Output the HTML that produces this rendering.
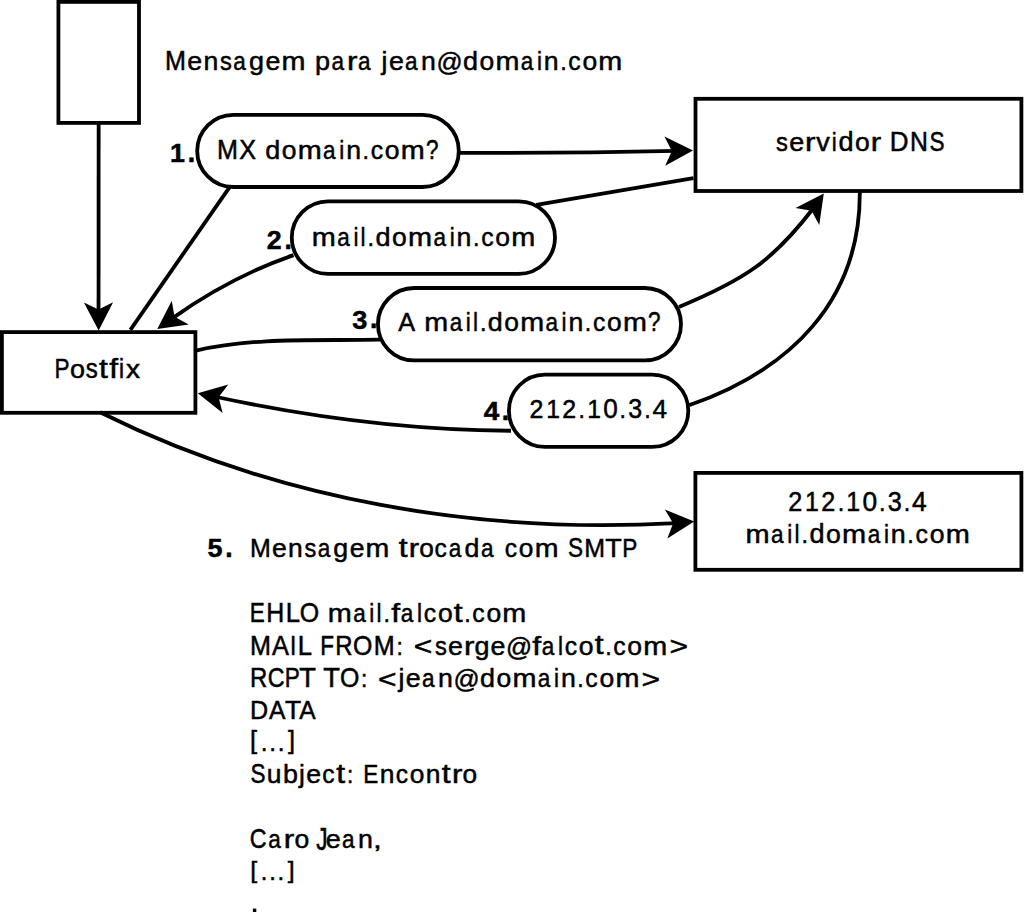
<!DOCTYPE html>
<html><head><meta charset="utf-8"><style>
html,body{margin:0;padding:0;background:#fff;}
svg{display:block;}
.s{fill:none;stroke:#000;stroke-width:3.8;}
text{font-family:"Liberation Sans",sans-serif;fill:#000;stroke:#000;stroke-width:0.5;}
</style></head><body>
<svg width="1024" height="919" viewBox="0 0 1024 919">
<rect x="0" y="0" width="1024" height="919" fill="#fff"/>
<rect x="58.40" y="1.90" width="80.60" height="121.00" class="s"/>
<rect x="197.20" y="114.80" width="261.60" height="72.20" rx="36.10" class="s"/>
<rect x="695.50" y="98.80" width="325.90" height="92.20" class="s"/>
<rect x="291.80" y="201.30" width="263.20" height="72.60" rx="36.30" class="s"/>
<rect x="1.90" y="332.10" width="193.50" height="80.70" class="s"/>
<rect x="377.95" y="288.00" width="303.05" height="72.40" rx="36.20" class="s"/>
<rect x="508.90" y="374.70" width="179.40" height="72.20" rx="36.10" class="s"/>
<rect x="695.40" y="472.90" width="326.00" height="96.90" class="s"/>
<path d="M98.65,122.6 L98.55,312.62" class="s"/>
<polygon points="98.65,330.60 113.10,302.32 98.54,309.45 83.90,302.48" fill="#000"/>
<path d="M459.80,152.90 C531.56,153.06 603.25,152.42 675.03,150.88" class="s"/>
<polygon points="693.00,150.40 664.42,136.56 671.86,150.96 665.20,165.75" fill="#000"/>
<path d="M693.5,178.2 L536.3,204.9" class="s"/>
<path d="M293.50,255.10 C250.16,270.14 209.22,292.07 171.93,318.65" class="s"/>
<polygon points="157.30,329.10 188.73,324.60 174.51,316.81 171.77,300.83" fill="#000"/>
<path d="M229.8,186.8 L130.4,329.8" class="s"/>
<path d="M196.00,350.60 C256.19,336.76 318.85,340.94 380.00,339.70" class="s"/>
<path d="M678.90,307.00 C746.03,279.06 772.95,260.63 813.34,208.22" class="s"/>
<polygon points="823.80,193.60 795.52,208.03 811.49,210.80 819.26,225.03" fill="#000"/>
<path d="M859.80,190.80 C860.90,301.32 789.60,370.31 689.00,405.30" class="s"/>
<path d="M511.00,430.75 C411.55,430.18 312.57,417.72 215.44,396.75" class="s"/>
<polygon points="197.80,393.30 222.68,413.04 218.56,397.35 228.28,384.38" fill="#000"/>
<path d="M100.00,412.30 C277.58,500.65 479.45,534.20 676.29,523.05" class="s"/>
<polygon points="694.20,521.50 664.84,509.39 673.13,523.33 667.37,538.48" fill="#000"/>
<g font-size="26.5" font-weight="normal"><text transform="matrix(0.948 0.0002 0 1.009 175.54 70.00)" x="-11.02" y="0">M</text><text transform="matrix(1.011 0.0002 0 0.989 194.69 70.10)" x="-7.34" y="0">e</text><text transform="matrix(1.006 0.0002 0 0.982 210.87 70.00)" x="-7.39" y="0">n</text><text transform="matrix(0.893 0.0002 0 0.992 225.83 70.10)" x="-6.52" y="0">s</text><text transform="matrix(0.850 0.0002 0 0.989 240.04 70.10)" x="-7.92" y="0">a</text><text transform="matrix(1.017 0.0002 0 0.983 256.13 69.97)" x="-7.08" y="0">g</text><text transform="matrix(1.011 0.0002 0 0.989 272.79 70.10)" x="-7.34" y="0">e</text><text transform="matrix(1.086 0.0002 0 0.982 293.40 70.00)" x="-11.05" y="0">m</text><text transform="matrix(1.022 0.0002 0 0.980 322.83 69.98)" x="-7.66" y="0">p</text><text transform="matrix(0.850 0.0002 0 0.989 338.12 70.10)" x="-7.92" y="0">a</text><text transform="matrix(1.183 0.0002 0 0.982 352.95 70.00)" x="-5.06" y="0">r</text><text transform="matrix(0.850 0.0002 0 0.989 364.62 70.10)" x="-7.92" y="0">a</text><text transform="matrix(1.002 0.0002 0 0.994 383.33 69.90)" x="-1.72" y="0">j</text><text transform="matrix(1.011 0.0002 0 0.989 396.37 70.10)" x="-7.34" y="0">e</text><text transform="matrix(0.850 0.0002 0 0.989 411.83 70.10)" x="-7.92" y="0">a</text><text transform="matrix(1.006 0.0002 0 0.982 428.41 70.00)" x="-7.39" y="0">n</text><text transform="matrix(0.971 0.0002 0 0.973 449.45 70.95)" x="-13.33" y="0">@</text><text transform="matrix(1.017 0.0002 0 1.004 470.20 70.10)" x="-7.08" y="0">d</text><text transform="matrix(0.999 0.0002 0 0.989 486.82 70.10)" x="-7.37" y="0">o</text><text transform="matrix(1.086 0.0002 0 0.982 507.39 70.00)" x="-11.05" y="0">m</text><text transform="matrix(0.850 0.0002 0 0.989 527.45 70.10)" x="-7.92" y="0">a</text><text transform="matrix(0.850 0.0002 0 0.999 539.37 70.00)" x="-2.92" y="0">i</text><text transform="matrix(1.006 0.0002 0 0.982 551.22 70.00)" x="-7.39" y="0">n</text><text transform="matrix(0.880 0.0002 0 0.965 563.46 70.00)" x="-3.68" y="0">.</text><text transform="matrix(0.933 0.0002 0 0.989 574.64 70.10)" x="-6.84" y="0">c</text><text transform="matrix(0.999 0.0002 0 0.989 589.78 70.10)" x="-7.37" y="0">o</text><text transform="matrix(1.086 0.0002 0 0.982 610.35 70.00)" x="-11.05" y="0">m</text></g>
<g font-size="26.5" font-weight="normal"><text transform="matrix(0.950 0.0002 0 1.010 227.55 159.10)" x="-11.02" y="0">M</text><text transform="matrix(0.951 0.0002 0 1.010 247.58 159.10)" x="-8.88" y="0">X</text><text transform="matrix(1.018 0.0002 0 1.005 272.48 159.20)" x="-7.08" y="0">d</text><text transform="matrix(1.000 0.0002 0 0.990 289.11 159.20)" x="-7.37" y="0">o</text><text transform="matrix(1.087 0.0002 0 0.983 309.71 159.10)" x="-11.05" y="0">m</text><text transform="matrix(0.850 0.0002 0 0.990 329.79 159.20)" x="-7.92" y="0">a</text><text transform="matrix(0.850 0.0002 0 1.000 341.73 159.10)" x="-2.92" y="0">i</text><text transform="matrix(1.007 0.0002 0 0.983 353.59 159.10)" x="-7.39" y="0">n</text><text transform="matrix(0.881 0.0002 0 0.966 365.85 159.10)" x="-3.68" y="0">.</text><text transform="matrix(0.934 0.0002 0 0.990 377.04 159.20)" x="-6.84" y="0">c</text><text transform="matrix(1.000 0.0002 0 0.990 392.19 159.20)" x="-7.37" y="0">o</text><text transform="matrix(1.087 0.0002 0 0.983 412.79 159.10)" x="-11.05" y="0">m</text><text transform="matrix(0.850 0.0002 0 1.012 432.22 159.10)" x="-7.45" y="0">?</text></g>
<g font-size="26.5" font-weight="bold" stroke-width="0.8"><text transform="matrix(1.013 0.0002 0 0.993 177.95 161.60)" x="-7.82" y="0">1</text><text transform="matrix(0.999 0.0002 0 1.038 191.33 161.60)" x="-3.68" y="0">.</text></g>
<g font-size="26.5" font-weight="normal"><text transform="matrix(0.897 0.0002 0 0.997 781.83 151.30)" x="-6.52" y="0">s</text><text transform="matrix(1.016 0.0002 0 0.993 796.57 151.30)" x="-7.34" y="0">e</text><text transform="matrix(1.188 0.0002 0 0.986 811.05 151.20)" x="-5.06" y="0">r</text><text transform="matrix(1.022 0.0002 0 0.979 822.91 151.20)" x="-6.62" y="0">v</text><text transform="matrix(0.850 0.0002 0 1.004 834.21 151.20)" x="-2.92" y="0">i</text><text transform="matrix(1.022 0.0002 0 1.009 845.62 151.30)" x="-7.08" y="0">d</text><text transform="matrix(1.003 0.0002 0 0.993 862.30 151.30)" x="-7.37" y="0">o</text><text transform="matrix(1.188 0.0002 0 0.986 876.74 151.20)" x="-5.06" y="0">r</text><text transform="matrix(0.982 0.0002 0 1.013 899.67 151.20)" x="-10.02" y="0">D</text><text transform="matrix(0.936 0.0002 0 1.013 918.90 151.20)" x="-9.57" y="0">N</text><text transform="matrix(0.850 0.0002 0 1.021 937.02 151.29)" x="-8.85" y="0">S</text></g>
<g font-size="26.5" font-weight="normal"><text transform="matrix(1.090 0.0002 0 0.985 323.79 245.70)" x="-11.05" y="0">m</text><text transform="matrix(0.850 0.0002 0 0.992 343.92 245.80)" x="-7.92" y="0">a</text><text transform="matrix(0.850 0.0002 0 1.003 355.88 245.70)" x="-2.92" y="0">i</text><text transform="matrix(0.850 0.0002 0 1.003 363.10 245.70)" x="-2.97" y="0">l</text><text transform="matrix(0.883 0.0002 0 0.968 370.81 245.70)" x="-3.68" y="0">.</text><text transform="matrix(1.021 0.0002 0 1.008 382.75 245.80)" x="-7.08" y="0">d</text><text transform="matrix(1.002 0.0002 0 0.992 399.42 245.80)" x="-7.37" y="0">o</text><text transform="matrix(1.090 0.0002 0 0.985 420.06 245.70)" x="-11.05" y="0">m</text><text transform="matrix(0.850 0.0002 0 0.992 440.19 245.80)" x="-7.92" y="0">a</text><text transform="matrix(0.850 0.0002 0 1.003 452.15 245.70)" x="-2.92" y="0">i</text><text transform="matrix(1.009 0.0002 0 0.985 464.04 245.70)" x="-7.39" y="0">n</text><text transform="matrix(0.883 0.0002 0 0.968 476.32 245.70)" x="-3.68" y="0">.</text><text transform="matrix(0.936 0.0002 0 0.992 487.53 245.80)" x="-6.84" y="0">c</text><text transform="matrix(1.002 0.0002 0 0.992 502.72 245.80)" x="-7.37" y="0">o</text><text transform="matrix(1.090 0.0002 0 0.985 523.36 245.70)" x="-11.05" y="0">m</text></g>
<g font-size="26.5" font-weight="bold" stroke-width="0.8"><text transform="matrix(1.008 0.0002 0 0.996 274.16 249.50)" x="-7.29" y="0">2</text><text transform="matrix(0.999 0.0002 0 1.038 288.20 249.50)" x="-3.68" y="0">.</text></g>
<g font-size="26.5" font-weight="normal"><text transform="matrix(0.850 0.0002 0 1.026 62.38 378.20)" x="-9.22" y="0">P</text><text transform="matrix(1.016 0.0002 0 1.005 77.56 378.30)" x="-7.37" y="0">o</text><text transform="matrix(0.908 0.0002 0 1.009 91.56 378.30)" x="-6.52" y="0">s</text><text transform="matrix(1.200 0.0002 0 1.037 103.52 377.98)" x="-3.79" y="0">t</text><text transform="matrix(1.200 0.0002 0 1.016 113.84 378.20)" x="-3.90" y="0">f</text><text transform="matrix(0.850 0.0002 0 1.016 121.57 378.20)" x="-2.92" y="0">i</text><text transform="matrix(1.061 0.0002 0 0.991 132.96 378.20)" x="-6.62" y="0">x</text></g>
<g font-size="26.5" font-weight="normal"><text transform="matrix(0.955 0.0002 0 1.007 406.63 331.40)" x="-8.82" y="0">A</text><text transform="matrix(1.084 0.0002 0 0.980 436.34 331.40)" x="-11.05" y="0">m</text><text transform="matrix(0.850 0.0002 0 0.987 456.37 331.50)" x="-7.92" y="0">a</text><text transform="matrix(0.850 0.0002 0 0.997 468.27 331.40)" x="-2.92" y="0">i</text><text transform="matrix(0.850 0.0002 0 0.997 475.45 331.40)" x="-2.97" y="0">l</text><text transform="matrix(0.878 0.0002 0 0.963 483.12 331.40)" x="-3.68" y="0">.</text><text transform="matrix(1.015 0.0002 0 1.002 495.01 331.50)" x="-7.08" y="0">d</text><text transform="matrix(0.997 0.0002 0 0.987 511.59 331.50)" x="-7.37" y="0">o</text><text transform="matrix(1.084 0.0002 0 0.980 532.12 331.40)" x="-11.05" y="0">m</text><text transform="matrix(0.850 0.0002 0 0.987 552.15 331.50)" x="-7.92" y="0">a</text><text transform="matrix(0.850 0.0002 0 0.997 564.06 331.40)" x="-2.92" y="0">i</text><text transform="matrix(1.004 0.0002 0 0.980 575.89 331.40)" x="-7.39" y="0">n</text><text transform="matrix(0.878 0.0002 0 0.963 588.10 331.40)" x="-3.68" y="0">.</text><text transform="matrix(0.931 0.0002 0 0.987 599.26 331.50)" x="-6.84" y="0">c</text><text transform="matrix(0.997 0.0002 0 0.987 614.37 331.50)" x="-7.37" y="0">o</text><text transform="matrix(1.084 0.0002 0 0.980 634.91 331.40)" x="-11.05" y="0">m</text><text transform="matrix(0.850 0.0002 0 1.009 654.29 331.40)" x="-7.45" y="0">?</text></g>
<g font-size="26.5" font-weight="bold" stroke-width="0.8"><text transform="matrix(1.023 0.0002 0 0.998 359.57 328.55)" x="-7.21" y="0">3</text><text transform="matrix(0.999 0.0002 0 1.038 373.68 328.50)" x="-3.68" y="0">.</text></g>
<g font-size="26.5" font-weight="normal"><text transform="matrix(0.943 0.0002 0 1.006 536.45 418.30)" x="-7.37" y="0">2</text><text transform="matrix(0.933 0.0002 0 1.004 553.40 418.30)" x="-7.74" y="0">1</text><text transform="matrix(0.943 0.0002 0 1.006 569.22 418.30)" x="-7.37" y="0">2</text><text transform="matrix(0.874 0.0002 0 0.959 581.82 418.30)" x="-3.68" y="0">.</text><text transform="matrix(0.933 0.0002 0 1.004 594.36 418.30)" x="-7.74" y="0">1</text><text transform="matrix(0.985 0.0002 0 1.011 610.51 418.39)" x="-7.39" y="0">0</text><text transform="matrix(0.874 0.0002 0 0.959 622.77 418.30)" x="-3.68" y="0">.</text><text transform="matrix(0.944 0.0002 0 1.011 635.03 418.39)" x="-7.29" y="0">3</text><text transform="matrix(0.874 0.0002 0 0.959 647.35 418.30)" x="-3.68" y="0">.</text><text transform="matrix(0.988 0.0002 0 1.004 659.55 418.30)" x="-7.26" y="0">4</text></g>
<g font-size="26.5" font-weight="bold" stroke-width="0.8"><text transform="matrix(1.053 0.0002 0 0.993 491.56 419.90)" x="-7.50" y="0">4</text><text transform="matrix(0.999 0.0002 0 1.038 505.51 419.90)" x="-3.68" y="0">.</text></g>
<g font-size="26.5" font-weight="normal"><text transform="matrix(0.951 0.0002 0 1.014 795.20 511.20)" x="-7.37" y="0">2</text><text transform="matrix(0.941 0.0002 0 1.012 812.29 511.20)" x="-7.74" y="0">1</text><text transform="matrix(0.951 0.0002 0 1.014 828.23 511.20)" x="-7.37" y="0">2</text><text transform="matrix(0.883 0.0002 0 0.968 840.93 511.20)" x="-3.68" y="0">.</text><text transform="matrix(0.941 0.0002 0 1.012 853.57 511.20)" x="-7.74" y="0">1</text><text transform="matrix(0.994 0.0002 0 1.019 869.86 511.29)" x="-7.39" y="0">0</text><text transform="matrix(0.883 0.0002 0 0.968 882.22 511.20)" x="-3.68" y="0">.</text><text transform="matrix(0.952 0.0002 0 1.019 894.58 511.29)" x="-7.29" y="0">3</text><text transform="matrix(0.883 0.0002 0 0.968 906.99 511.20)" x="-3.68" y="0">.</text><text transform="matrix(0.997 0.0002 0 1.012 919.29 511.20)" x="-7.26" y="0">4</text></g>
<g font-size="26.5" font-weight="normal"><text transform="matrix(1.093 0.0002 0 0.988 757.62 543.00)" x="-11.05" y="0">m</text><text transform="matrix(0.850 0.0002 0 0.995 777.81 543.10)" x="-7.92" y="0">a</text><text transform="matrix(0.850 0.0002 0 1.006 789.81 543.00)" x="-2.92" y="0">i</text><text transform="matrix(0.850 0.0002 0 1.006 797.04 543.00)" x="-2.97" y="0">l</text><text transform="matrix(0.887 0.0002 0 0.972 804.78 543.00)" x="-3.68" y="0">.</text><text transform="matrix(1.024 0.0002 0 1.011 816.75 543.10)" x="-7.08" y="0">d</text><text transform="matrix(1.005 0.0002 0 0.995 833.47 543.10)" x="-7.37" y="0">o</text><text transform="matrix(1.093 0.0002 0 0.988 854.17 543.00)" x="-11.05" y="0">m</text><text transform="matrix(0.850 0.0002 0 0.995 874.36 543.10)" x="-7.92" y="0">a</text><text transform="matrix(0.850 0.0002 0 1.006 886.36 543.00)" x="-2.92" y="0">i</text><text transform="matrix(1.012 0.0002 0 0.988 898.29 543.00)" x="-7.39" y="0">n</text><text transform="matrix(0.887 0.0002 0 0.972 910.60 543.00)" x="-3.68" y="0">.</text><text transform="matrix(0.939 0.0002 0 0.995 921.85 543.10)" x="-6.84" y="0">c</text><text transform="matrix(1.005 0.0002 0 0.995 937.08 543.10)" x="-7.37" y="0">o</text><text transform="matrix(1.093 0.0002 0 0.988 957.78 543.00)" x="-11.05" y="0">m</text></g>
<g font-size="26.5" font-weight="bold" stroke-width="0.8"><text transform="matrix(1.019 0.0002 0 0.999 215.15 557.50)" x="-7.42" y="0">5</text><text transform="matrix(0.999 0.0002 0 1.038 228.97 557.40)" x="-3.68" y="0">.</text></g>
<g font-size="26.5" font-weight="normal"><text transform="matrix(0.942 0.0002 0 1.002 260.39 557.40)" x="-11.02" y="0">M</text><text transform="matrix(1.005 0.0002 0 0.982 279.41 557.50)" x="-7.34" y="0">e</text><text transform="matrix(0.999 0.0002 0 0.975 295.49 557.40)" x="-7.39" y="0">n</text><text transform="matrix(0.887 0.0002 0 0.986 310.35 557.50)" x="-6.52" y="0">s</text><text transform="matrix(0.850 0.0002 0 0.982 324.47 557.50)" x="-7.92" y="0">a</text><text transform="matrix(1.010 0.0002 0 0.976 340.45 557.37)" x="-7.08" y="0">g</text><text transform="matrix(1.005 0.0002 0 0.982 357.01 557.50)" x="-7.34" y="0">e</text><text transform="matrix(1.079 0.0002 0 0.975 377.48 557.40)" x="-11.05" y="0">m</text><text transform="matrix(1.200 0.0002 0 1.013 403.17 557.19)" x="-3.79" y="0">t</text><text transform="matrix(1.174 0.0002 0 0.975 414.65 557.40)" x="-5.06" y="0">r</text><text transform="matrix(0.992 0.0002 0 0.982 426.66 557.50)" x="-7.37" y="0">o</text><text transform="matrix(0.927 0.0002 0 0.982 440.93 557.50)" x="-6.84" y="0">c</text><text transform="matrix(0.850 0.0002 0 0.982 455.55 557.50)" x="-7.92" y="0">a</text><text transform="matrix(1.010 0.0002 0 0.998 471.54 557.50)" x="-7.08" y="0">d</text><text transform="matrix(0.850 0.0002 0 0.982 487.63 557.50)" x="-7.92" y="0">a</text><text transform="matrix(0.927 0.0002 0 0.982 511.08 557.50)" x="-6.84" y="0">c</text><text transform="matrix(0.992 0.0002 0 0.982 526.11 557.50)" x="-7.37" y="0">o</text><text transform="matrix(1.079 0.0002 0 0.975 546.55 557.40)" x="-11.05" y="0">m</text><text transform="matrix(0.850 0.0002 0 1.010 575.48 557.49)" x="-8.85" y="0">S</text><text transform="matrix(0.942 0.0002 0 1.002 594.61 557.40)" x="-11.02" y="0">M</text><text transform="matrix(1.023 0.0002 0 1.002 613.55 557.40)" x="-8.08" y="0">T</text><text transform="matrix(0.850 0.0002 0 1.002 629.96 557.40)" x="-9.22" y="0">P</text></g>
<g font-size="26.5" font-weight="normal"><text transform="matrix(0.850 0.0002 0 1.010 257.69 622.38)" x="-9.35" y="0">E</text><text transform="matrix(0.941 0.0002 0 1.010 275.18 622.38)" x="-9.57" y="0">H</text><text transform="matrix(0.966 0.0002 0 1.010 293.34 622.38)" x="-8.00" y="0">L</text><text transform="matrix(0.939 0.0002 0 1.018 309.54 622.47)" x="-10.31" y="0">O</text><text transform="matrix(1.088 0.0002 0 0.983 339.77 622.38)" x="-11.05" y="0">m</text><text transform="matrix(0.850 0.0002 0 0.990 359.85 622.48)" x="-7.92" y="0">a</text><text transform="matrix(0.850 0.0002 0 1.000 371.79 622.38)" x="-2.92" y="0">i</text><text transform="matrix(0.850 0.0002 0 1.000 378.99 622.38)" x="-2.97" y="0">l</text><text transform="matrix(0.881 0.0002 0 0.966 386.69 622.38)" x="-3.68" y="0">.</text><text transform="matrix(1.200 0.0002 0 1.000 395.94 622.38)" x="-3.90" y="0">f</text><text transform="matrix(0.850 0.0002 0 0.990 407.49 622.48)" x="-7.92" y="0">a</text><text transform="matrix(0.850 0.0002 0 1.000 419.44 622.38)" x="-2.97" y="0">l</text><text transform="matrix(0.934 0.0002 0 0.990 430.08 622.48)" x="-6.84" y="0">c</text><text transform="matrix(1.000 0.0002 0 0.990 445.24 622.48)" x="-7.37" y="0">o</text><text transform="matrix(1.200 0.0002 0 1.021 458.24 622.16)" x="-3.79" y="0">t</text><text transform="matrix(0.881 0.0002 0 0.966 467.39 622.38)" x="-3.68" y="0">.</text><text transform="matrix(0.934 0.0002 0 0.990 478.58 622.48)" x="-6.84" y="0">c</text><text transform="matrix(1.000 0.0002 0 0.990 493.74 622.48)" x="-7.37" y="0">o</text><text transform="matrix(1.088 0.0002 0 0.983 514.33 622.38)" x="-11.05" y="0">m</text></g>
<g font-size="26.5" font-weight="normal"><text transform="matrix(0.949 0.0002 0 1.010 260.45 654.57)" x="-11.02" y="0">M</text><text transform="matrix(0.958 0.0002 0 1.010 280.47 654.57)" x="-8.82" y="0">A</text><text transform="matrix(0.850 0.0002 0 1.010 293.14 654.57)" x="-3.68" y="0">I</text><text transform="matrix(0.966 0.0002 0 1.010 305.39 654.57)" x="-8.00" y="0">L</text><text transform="matrix(0.850 0.0002 0 1.010 327.61 654.57)" x="-8.64" y="0">F</text><text transform="matrix(0.903 0.0002 0 1.010 344.43 654.57)" x="-10.04" y="0">R</text><text transform="matrix(0.938 0.0002 0 1.017 362.71 654.66)" x="-10.31" y="0">O</text><text transform="matrix(0.949 0.0002 0 1.010 384.11 654.57)" x="-11.02" y="0">M</text><text transform="matrix(0.860 0.0002 0 0.923 399.65 654.57)" x="-3.68" y="0">:</text><text transform="matrix(1.200 0.0002 0 0.998 423.09 655.39)" x="-7.76" y="0">&lt;</text><text transform="matrix(0.894 0.0002 0 0.993 440.75 654.67)" x="-6.52" y="0">s</text><text transform="matrix(1.012 0.0002 0 0.989 455.44 654.67)" x="-7.34" y="0">e</text><text transform="matrix(1.184 0.0002 0 0.982 469.87 654.57)" x="-5.06" y="0">r</text><text transform="matrix(1.018 0.0002 0 0.984 481.79 654.54)" x="-7.08" y="0">g</text><text transform="matrix(1.012 0.0002 0 0.989 498.01 654.67)" x="-7.34" y="0">e</text><text transform="matrix(0.971 0.0002 0 0.974 518.84 655.52)" x="-13.33" y="0">@</text><text transform="matrix(1.200 0.0002 0 1.000 536.95 654.57)" x="-3.90" y="0">f</text><text transform="matrix(0.850 0.0002 0 0.989 548.50 654.67)" x="-7.92" y="0">a</text><text transform="matrix(0.850 0.0002 0 1.000 560.44 654.57)" x="-2.97" y="0">l</text><text transform="matrix(0.934 0.0002 0 0.989 571.08 654.67)" x="-6.84" y="0">c</text><text transform="matrix(1.000 0.0002 0 0.989 586.23 654.67)" x="-7.37" y="0">o</text><text transform="matrix(1.200 0.0002 0 1.020 599.23 654.35)" x="-3.79" y="0">t</text><text transform="matrix(0.881 0.0002 0 0.965 608.37 654.57)" x="-3.68" y="0">.</text><text transform="matrix(0.934 0.0002 0 0.989 619.56 654.67)" x="-6.84" y="0">c</text><text transform="matrix(1.000 0.0002 0 0.989 634.71 654.67)" x="-7.37" y="0">o</text><text transform="matrix(1.087 0.0002 0 0.982 655.30 654.57)" x="-11.05" y="0">m</text><text transform="matrix(1.200 0.0002 0 0.998 678.69 655.39)" x="-7.76" y="0">&gt;</text></g>
<g font-size="26.5" font-weight="normal"><text transform="matrix(0.903 0.0002 0 1.010 259.06 686.76)" x="-10.04" y="0">R</text><text transform="matrix(0.877 0.0002 0 1.017 276.23 686.85)" x="-9.73" y="0">C</text><text transform="matrix(0.850 0.0002 0 1.010 292.59 686.76)" x="-9.22" y="0">P</text><text transform="matrix(1.031 0.0002 0 1.010 307.51 686.76)" x="-8.08" y="0">T</text><text transform="matrix(1.031 0.0002 0 1.010 331.58 686.76)" x="-8.08" y="0">T</text><text transform="matrix(0.939 0.0002 0 1.017 349.66 686.85)" x="-10.31" y="0">O</text><text transform="matrix(0.860 0.0002 0 0.923 364.25 686.76)" x="-3.68" y="0">:</text><text transform="matrix(1.200 0.0002 0 0.998 387.23 687.58)" x="-7.76" y="0">&lt;</text><text transform="matrix(1.004 0.0002 0 0.995 400.24 686.66)" x="-1.72" y="0">j</text><text transform="matrix(1.012 0.0002 0 0.990 413.29 686.86)" x="-7.34" y="0">e</text><text transform="matrix(0.850 0.0002 0 0.990 428.77 686.86)" x="-7.92" y="0">a</text><text transform="matrix(1.007 0.0002 0 0.983 445.37 686.76)" x="-7.39" y="0">n</text><text transform="matrix(0.972 0.0002 0 0.974 466.43 687.71)" x="-13.33" y="0">@</text><text transform="matrix(1.018 0.0002 0 1.005 487.20 686.86)" x="-7.08" y="0">d</text><text transform="matrix(1.000 0.0002 0 0.990 503.83 686.86)" x="-7.37" y="0">o</text><text transform="matrix(1.087 0.0002 0 0.983 524.43 686.76)" x="-11.05" y="0">m</text><text transform="matrix(0.850 0.0002 0 0.990 544.51 686.86)" x="-7.92" y="0">a</text><text transform="matrix(0.850 0.0002 0 1.000 556.45 686.76)" x="-2.92" y="0">i</text><text transform="matrix(1.007 0.0002 0 0.983 568.31 686.76)" x="-7.39" y="0">n</text><text transform="matrix(0.881 0.0002 0 0.966 580.56 686.76)" x="-3.68" y="0">.</text><text transform="matrix(0.934 0.0002 0 0.990 591.75 686.86)" x="-6.84" y="0">c</text><text transform="matrix(1.000 0.0002 0 0.990 606.90 686.86)" x="-7.37" y="0">o</text><text transform="matrix(1.087 0.0002 0 0.983 627.49 686.76)" x="-11.05" y="0">m</text><text transform="matrix(1.200 0.0002 0 0.998 650.89 687.58)" x="-7.76" y="0">&gt;</text></g>
<g font-size="26.5" font-weight="normal"><text transform="matrix(0.948 0.0002 0 0.978 259.39 718.95)" x="-10.02" y="0">D</text><text transform="matrix(0.928 0.0002 0 0.978 277.17 718.95)" x="-8.82" y="0">A</text><text transform="matrix(0.998 0.0002 0 0.978 293.01 718.95)" x="-8.08" y="0">T</text><text transform="matrix(0.928 0.0002 0 0.978 307.31 718.95)" x="-8.82" y="0">A</text></g>
<g font-size="26.5" font-weight="normal"><text transform="matrix(0.958 0.0002 0 0.949 254.36 749.45)" x="-4.53" y="0">[</text><text transform="matrix(0.919 0.0002 0 1.006 264.00 751.14)" x="-3.68" y="0">.</text><text transform="matrix(0.919 0.0002 0 1.006 272.53 751.14)" x="-3.68" y="0">.</text><text transform="matrix(0.919 0.0002 0 1.006 281.05 751.14)" x="-3.68" y="0">.</text><text transform="matrix(0.958 0.0002 0 0.949 290.74 749.45)" x="-2.84" y="0">]</text></g>
<g font-size="26.5" font-weight="normal"><text transform="matrix(0.850 0.0002 0 1.010 257.91 783.42)" x="-8.85" y="0">S</text><text transform="matrix(0.999 0.0002 0 0.975 273.98 783.43)" x="-7.34" y="0">u</text><text transform="matrix(1.015 0.0002 0 0.998 290.84 783.43)" x="-7.66" y="0">b</text><text transform="matrix(0.995 0.0002 0 0.988 300.68 783.23)" x="-1.72" y="0">j</text><text transform="matrix(1.005 0.0002 0 0.982 313.64 783.43)" x="-7.34" y="0">e</text><text transform="matrix(0.927 0.0002 0 0.982 328.51 783.43)" x="-6.84" y="0">c</text><text transform="matrix(1.200 0.0002 0 1.013 340.72 783.12)" x="-3.79" y="0">t</text><text transform="matrix(0.852 0.0002 0 0.916 350.08 783.33)" x="-3.68" y="0">:</text><text transform="matrix(0.850 0.0002 0 1.002 371.14 783.33)" x="-9.35" y="0">E</text><text transform="matrix(0.999 0.0002 0 0.975 387.03 783.33)" x="-7.39" y="0">n</text><text transform="matrix(0.927 0.0002 0 0.982 402.12 783.43)" x="-6.84" y="0">c</text><text transform="matrix(0.992 0.0002 0 0.982 417.16 783.43)" x="-7.37" y="0">o</text><text transform="matrix(0.999 0.0002 0 0.975 433.20 783.33)" x="-7.39" y="0">n</text><text transform="matrix(1.200 0.0002 0 1.013 446.36 783.12)" x="-3.79" y="0">t</text><text transform="matrix(1.174 0.0002 0 0.975 457.83 783.33)" x="-5.06" y="0">r</text><text transform="matrix(0.992 0.0002 0 0.982 469.85 783.43)" x="-7.37" y="0">o</text></g>
<g font-size="26.5" font-weight="normal"><text transform="matrix(0.880 0.0002 0 1.021 258.24 847.80)" x="-9.73" y="0">C</text><text transform="matrix(0.850 0.0002 0 0.993 274.86 847.81)" x="-7.92" y="0">a</text><text transform="matrix(1.188 0.0002 0 0.986 289.75 847.71)" x="-5.06" y="0">r</text><text transform="matrix(1.003 0.0002 0 0.993 301.90 847.81)" x="-7.37" y="0">o</text><text transform="matrix(0.850 0.0002 0 1.150 321.18 849.95)" x="-5.86" y="0">J</text><text transform="matrix(1.016 0.0002 0 0.993 333.21 847.81)" x="-7.34" y="0">e</text><text transform="matrix(0.850 0.0002 0 0.993 348.74 847.81)" x="-7.92" y="0">a</text><text transform="matrix(1.010 0.0002 0 0.986 365.40 847.71)" x="-7.39" y="0">n</text><text transform="matrix(1.200 0.0002 0 0.926 377.45 847.59)" x="-3.68" y="0">,</text></g>
<g font-size="26.5" font-weight="normal"><text transform="matrix(0.940 0.0002 0 0.933 254.62 878.24)" x="-4.53" y="0">[</text><text transform="matrix(0.901 0.0002 0 0.987 264.09 879.90)" x="-3.68" y="0">.</text><text transform="matrix(0.901 0.0002 0 0.987 272.48 879.90)" x="-3.68" y="0">.</text><text transform="matrix(0.901 0.0002 0 0.987 280.86 879.90)" x="-3.68" y="0">.</text><text transform="matrix(0.940 0.0002 0 0.933 290.38 878.24)" x="-2.84" y="0">]</text></g>
<rect x="252.9" y="908.6" width="3.4" height="3.4" fill="#000"/>
</svg>
</body></html>
